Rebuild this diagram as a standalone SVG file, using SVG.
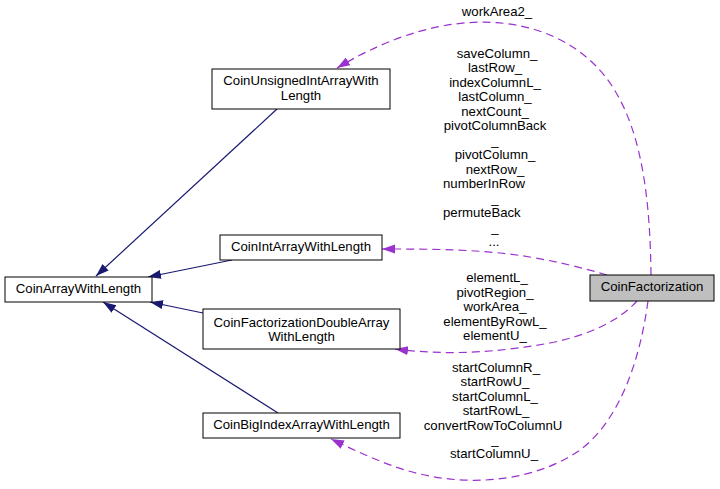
<svg xmlns="http://www.w3.org/2000/svg" width="720" height="489" viewBox="0 0 720 489">
<style>
text{font-family:"Liberation Sans",Arial,sans-serif;font-size:13.2px;fill:#000}
.c{text-anchor:middle}
.s{text-anchor:start}
.box{fill:#fff;stroke:#000;stroke-width:1}
.inh{fill:none;stroke:#191970;stroke-width:1.2}
.use{fill:none;stroke:#9a32cd;stroke-width:1.2;stroke-dasharray:8,5}
</style>
<defs>
<marker id="an" markerUnits="userSpaceOnUse" markerWidth="14" markerHeight="10" refX="13" refY="4.5" orient="auto"><path d="M0,0 L13,4.5 L0,9 z" fill="#191970"/></marker>
<marker id="ap" markerUnits="userSpaceOnUse" markerWidth="14" markerHeight="10" refX="13" refY="4.5" orient="auto"><path d="M0,0 L13,4.5 L0,9 z" fill="#9a32cd"/></marker>
</defs>
<rect width="720" height="489" fill="#fff"/>
<g id="connectors">
<path class="inh" d="M277,109 L96,276" marker-end="url(#an)"/>
<path class="inh" d="M232,260 L148,277" marker-end="url(#an)"/>
<path class="inh" d="M203,313 L150,302" marker-end="url(#an)"/>
<path class="inh" d="M278,413 L103,302" marker-end="url(#an)"/>
<path class="use" d="M651,275 C650,190 640,110 595,65 C545,15 450,0 337,68" marker-end="url(#ap)"/>
<path class="use" d="M607,275 C580,267 540,257 500,253 C460,249 420,249 382,249" marker-end="url(#ap)"/>
<path class="use" d="M637,301 C620,320 590,335 550,343 C500,352 450,356 395,349" marker-end="url(#ap)"/>
<path class="use" d="M648,301 C640,360 620,420 580,450 C540,478 480,488 420,474 C390,467 360,453 331,439" marker-end="url(#ap)"/>
<g id="labels">
<text class="c" x="497" y="16">workArea2_</text>
<text class="c" x="497" y="57.5">saveColumn_</text>
<text class="c" x="495" y="72">lastRow_</text>
<text class="c" x="495" y="86.5">indexColumnL_</text>
<text class="c" x="495" y="101">lastColumn_</text>
<text class="c" x="495" y="115.5">nextCount_</text>
<text class="c" x="495" y="130">pivotColumnBack</text>
<text class="c" x="495" y="144.5">_</text>
<text class="c" x="495" y="159">pivotColumn_</text>
<text class="c" x="495" y="173.5">nextRow_</text>
<text class="s" x="443" y="188">numberInRow</text>
<text class="c" x="495" y="202.5">_</text>
<text class="s" x="443" y="217">permuteBack</text>
<text class="c" x="495" y="231.5">_</text>
<text class="c" x="494" y="246">...</text>
<text class="c" x="497" y="282">elementL_</text>
<text class="c" x="495" y="296.5">pivotRegion_</text>
<text class="c" x="495" y="311">workArea_</text>
<text class="c" x="495" y="325.5">elementByRowL_</text>
<text class="c" x="495" y="340">elementU_</text>
<text class="c" x="496" y="372">startColumnR_</text>
<text class="c" x="495" y="386.4">startRowU_</text>
<text class="c" x="495" y="400.8">startColumnL_</text>
<text class="c" x="496" y="415.2">startRowL_</text>
<text class="c" x="493" y="429.6">convertRowToColumnU</text>
<text class="c" x="495" y="444">_</text>
<text class="c" x="494" y="458.4">startColumnU_</text>
</g>
</g>
<g id="CoinArrayWithLength">
<rect class="box" x="5" y="277" width="147" height="25"/>
<text class="c" x="78.5" y="293">CoinArrayWithLength</text>
</g>
<g id="CoinUnsignedIntArrayWithLength">
<rect class="box" x="212" y="69" width="178" height="40"/>
<text class="c" x="301" y="85">CoinUnsignedIntArrayWith</text>
<text class="c" x="301" y="99.5">Length</text>
</g>
<g id="CoinIntArrayWithLength">
<rect class="box" x="220" y="235" width="162" height="25"/>
<text class="c" x="301" y="251">CoinIntArrayWithLength</text>
</g>
<g id="CoinFactorizationDoubleArrayWithLength">
<rect class="box" x="203" y="309" width="197" height="40"/>
<text class="c" x="301.5" y="326.5">CoinFactorizationDoubleArray</text>
<text class="c" x="301.5" y="341">WithLength</text>
</g>
<g id="CoinBigIndexArrayWithLength">
<rect class="box" x="203" y="413" width="197" height="25"/>
<text class="c" x="301.5" y="429">CoinBigIndexArrayWithLength</text>
</g>
<g id="CoinFactorization">
<rect x="590" y="275" width="124" height="26" fill="#bfbfbf" stroke="#000" stroke-width="1"/>
<text class="c" x="652" y="291">CoinFactorization</text>
</g>
</svg>
